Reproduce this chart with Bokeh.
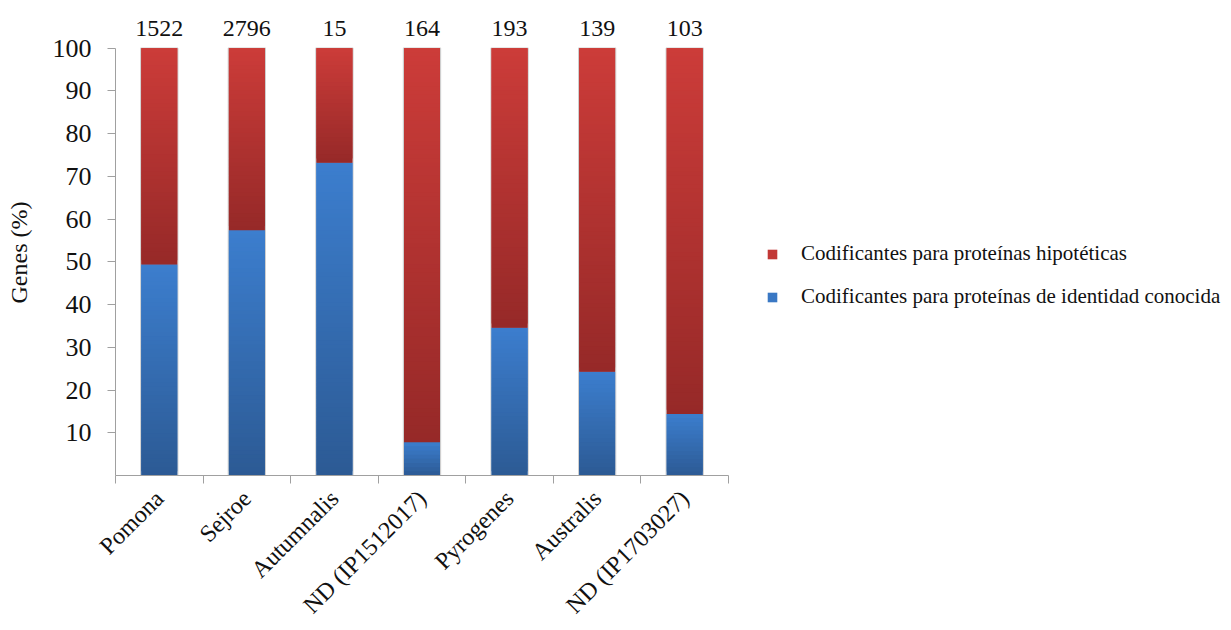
import numpy as np
from bokeh.plotting import figure
from bokeh.models import (ColumnDataSource, FixedTicker, Legend, LegendItem,
                          LabelSet, Range1d)
from bokeh.embed import file_html
from bokeh.resources import INLINE

# Serotypes, number of coding genes and share of genes (%) per category
serotypes = ["Pomona", "Sejroe", "Autumnalis", "ND (IP1512017)",
             "Pyrogenes", "Australis", "ND (IP1703027)"]
total_genes = [1522, 2796, 15, 164, 193, 139, 103]
known_pct = [49.4, 57.4, 73.2, 7.8, 34.6, 24.3, 14.4]
hypothetical_pct = [round(100 - v, 1) for v in known_pct]
y_ticks = [10, 20, 30, 40, 50, 60, 70, 80, 90, 100]

label_known = "Codificantes para proteínas de identidad conocida"
label_hypo = "Codificantes para proteínas hipotéticas"

FONT = "Liberation Serif"
TXT = "#111111"
BLUE_LIGHT, BLUE_DARK = (60, 126, 206), (44, 90, 148)
RED_LIGHT, RED_DARK = (204, 60, 57), (150, 41, 40)
BAR_W = 0.41
STRIP = 1.0          # strip height in % units for the vertical gradient

# geometry of the plotting area (pixels)
LEFT, BOTTOM_Y, WIDTH, HEIGHT = 115, 475, 1231, 630
CAT_PX = 87.57                      # width of one category slot
PX_PER_PCT = 4.273


def hexcol(rgb):
    return "#%02x%02x%02x" % tuple(int(round(c)) for c in rgb)


def gradient_strips(xs, bottoms, tops, light, dark):
    """Split each stacked segment into thin strips, dark at the bottom, light at the top."""
    sx, sb, st, sc = [], [], [], []
    for x, b, t in zip(xs, bottoms, tops):
        m = max(3, int(np.ceil((t - b) / STRIP)))
        h = (t - b) / m
        for k in range(m):
            f = (k + 0.5) / m
            col = [d + (l - d) * f for l, d in zip(light, dark)]
            sx.append(x)
            sb.append(b + k * h)
            # overlap the next strip so no seams show
            st.append(min(t, b + (k + 2) * h))
            sc.append(hexcol(col))
    return ColumnDataSource(dict(x=sx, bottom=sb, top=st, color=sc))


n = len(serotypes)
xs = np.arange(n) + 0.5
known = np.array(known_pct)
hypo = np.array(hypothetical_pct)

frame_w = WIDTH - LEFT
top_border = 5
frame_h = BOTTOM_Y - top_border
p = figure(width=WIDTH, height=HEIGHT, output_backend="svg", toolbar_location=None,
           x_range=Range1d(0, frame_w / CAT_PX),
           y_range=Range1d(0, frame_h / PX_PER_PCT),
           min_border_left=LEFT, min_border_right=0, min_border_top=top_border,
           min_border_bottom=HEIGHT - BOTTOM_Y, outline_line_color=None)
p.grid.visible = False
p.background_fill_color = "white"
p.border_fill_color = "white"

# faint shadow around each full bar
p.vbar(x=xs, width=BAR_W + 0.014, bottom=0, top=known + hypo, fill_color=None,
       line_color="#cfcfcf", line_width=1.2)

# solid stacked segments (also used as legend glyphs)
r_known = p.vbar(x=xs, width=BAR_W, bottom=0, top=known,
                 fill_color="#3a78c4", line_color=None)
r_hypo = p.vbar(x=xs, width=BAR_W, bottom=known, top=known + hypo,
                fill_color="#c23836", line_color=None)

# vertical shading over each segment
blue_src = gradient_strips(xs, np.zeros_like(known), known, BLUE_LIGHT, BLUE_DARK)
red_src = gradient_strips(xs, known, known + hypo, RED_LIGHT, RED_DARK)
for src in (blue_src, red_src):
    p.vbar(x="x", width=BAR_W, bottom="bottom", top="top", source=src,
           fill_color="color", line_color=None)

# totals above the bars
count_src = ColumnDataSource(dict(x=xs, y=known + hypo, txt=[str(v) for v in total_genes]))
p.add_layout(LabelSet(x="x", y="y", text="txt", source=count_src, y_offset=12,
                      text_align="center", text_baseline="alphabetic",
                      text_font=FONT, text_font_size="24px", text_color=TXT))

# axes
ax_col = "#a0a0a0"
xa = p.xaxis[0]
xa.bounds = (0, n)
xa.ticker = FixedTicker(ticks=list(xs), minor_ticks=list(range(n + 1)))
xa.major_label_overrides = {float(x): s for x, s in zip(xs, serotypes)}
xa.major_label_orientation = np.pi / 4
xa.major_tick_out = 0
xa.major_tick_in = 0
xa.minor_tick_out = 8
xa.minor_tick_in = 0
xa.minor_tick_line_color = ax_col
xa.axis_line_color = ax_col
xa.major_label_text_font = FONT
xa.major_label_text_font_size = "24px"
xa.major_label_text_color = TXT
xa.major_label_standoff = 11

ya = p.yaxis[0]
ya.bounds = (0, 100)
ya.ticker = FixedTicker(ticks=y_ticks)
ya.major_tick_out = 8
ya.major_tick_in = 0
ya.minor_tick_line_color = None
ya.major_tick_line_color = ax_col
ya.axis_line_color = ax_col
ya.major_label_text_font = FONT
ya.major_label_text_font_size = "26px"
ya.major_label_text_color = TXT
ya.major_label_standoff = 16
ya.axis_label = "Genes (%)" + "\u00a0" * 4
ya.axis_label_text_font = FONT
ya.axis_label_text_font_size = "24px"
ya.axis_label_text_font_style = "normal"
ya.axis_label_text_color = TXT
ya.axis_label_standoff = 18

legend = Legend(items=[LegendItem(label=label_hypo, renderers=[r_hypo]),
                       LegendItem(label=label_known, renderers=[r_known])],
                location=(651, BOTTOM_Y - 309), orientation="vertical",
                glyph_width=12, glyph_height=12, label_height=24, spacing=18,
                label_standoff=23, padding=0, margin=0,
                border_line_color=None, background_fill_alpha=0,
                label_text_font=FONT, label_text_font_size="21px",
                label_text_color=TXT)
p.add_layout(legend)

open("out.html", "w").write(file_html(p, INLINE))
